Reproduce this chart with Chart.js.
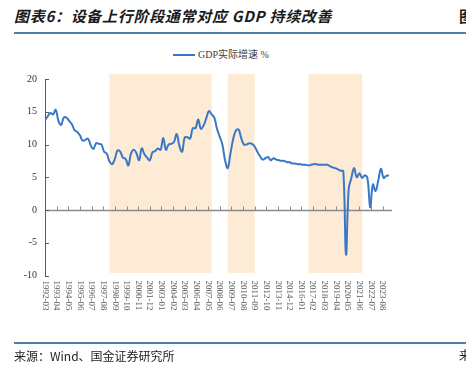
<!DOCTYPE html>
<html>
<head>
<meta charset="utf-8">
<script src="https://cdn.jsdelivr.net/npm/chart.js@4.4.0/dist/chart.umd.min.js"></script>
<style>
  html, body { margin: 0; padding: 0; background: #fff; }
  body { width: 466px; height: 365px; position: relative; overflow: hidden; }
  #c { position: absolute; left: 0; top: 0; }
  .title { position: absolute; left: 14px; top: 5px; font: italic bold 15px "Noto Sans CJK SC", sans-serif; color: #1a1a1a; letter-spacing: 0.7px; white-space: nowrap; }
  .cut { position: absolute; font: bold 15px "Noto Sans CJK SC", sans-serif; color: #1a1a1a; }
  .rule { position: absolute; left: 14px; width: 452px; height: 2px; background: #4f7fa6; }
  .source { position: absolute; left: 14px; top: 347px; font: 12px "Noto Sans CJK SC", sans-serif; color: #222; white-space: nowrap; }
  .legend { position: absolute; left: 173px; top: 46px; font: 10px "Liberation Serif", "Noto Sans CJK SC", serif; color: #404040; white-space: nowrap; }
  .legend i { display: inline-block; width: 22px; height: 2px; background: #3a78c6; vertical-align: middle; margin-right: 3px; position: relative; top: -1px; }
</style>
</head>
<body>
<div class="title">图表6：设备上行阶段通常对应 GDP 持续改善</div>
<div class="cut" style="left:459px; top:5px;">图</div>
<div class="rule" style="top:32px;"></div>
<div class="legend"><i></i>GDP实际增速 %</div>
<canvas id="c" width="466" height="365"></canvas>
<div class="rule" style="top:342px;"></div>
<div class="source">来源：Wind、国金证券研究所</div>
<div class="cut" style="left:459px; top:346px; font-weight:normal; font-size:12px;">来</div>
<script>
// 季度 GDP 实际同比 (%)，从 1992-03 起每季度一个点
const firstQuarter = '1992-03';
const gdpGrowth = [
  13.7, 14.3, 14.8, 14.6,   // 1992
  15.3, 13.6, 13.0, 14.1,   // 1993
  14.1, 13.6, 13.1, 12.2,   // 1994
  11.9, 11.4, 10.6, 10.7,   // 1995
  10.9, 9.9, 9.3, 10.2,     // 1996
  10.1, 10.0, 8.9, 8.6,     // 1997
  7.4, 7.0, 7.8, 9.1,       // 1998
  8.9, 8.0, 7.8, 6.8,       // 1999
  8.6, 9.2, 8.7, 7.6,       // 2000
  9.4, 8.5, 8.0, 7.6,       // 2001
  8.8, 9.0, 9.4, 9.2,       // 2002
  11.0, 9.2, 10.0, 10.1,    // 2003
  10.4, 11.6, 9.8, 8.9,     // 2004
  11.1, 11.1, 10.9, 12.5,   // 2005
  12.5, 13.8, 12.4, 12.9,   // 2006
  14.0, 15.1, 14.6, 14.1,   // 2007
  12.4, 11.2, 10.0, 7.6,    // 2008
  6.4, 8.6, 10.8, 12.1,     // 2009
  12.3, 11.0, 10.0, 10.0,   // 2010
  10.2, 10.1, 9.7, 8.9,     // 2011
  8.2, 7.7, 7.9, 8.1,       // 2012
  7.6, 7.9, 7.7, 7.6,       // 2013
  7.5, 7.5, 7.3, 7.3,       // 2014
  7.1, 7.1, 7.0, 7.0,       // 2015
  6.9, 6.9, 6.8, 6.9,       // 2016
  7.0, 7.0, 6.9, 6.9,       // 2017
  6.9, 6.9, 6.7, 6.5,       // 2018
  6.4, 6.2, 6.0, 5.9,       // 2019
  -6.8, 3.2, 4.9, 6.4,      // 2020
  5.0, 5.6, 4.9, 5.3,       // 2021
  4.8, 0.4, 3.9, 2.9,       // 2022
  4.5, 6.3, 4.9, 5.2,       // 2023
  5.3                       // 2024
];

// 设备上行阶段（阴影区间）
const upcycleStart = ['1998-03', '2009-03', '2016-09'];
const upcycleEnd   = ['2007-09', '2011-09', '2021-09'];

const xTickLabels = [
  '1992-03', '1993-04', '1994-05', '1995-06', '1996-07', '1997-08', '1998-09', '1999-10',
  '2000-11', '2001-12', '2003-01', '2004-02', '2005-03', '2006-04', '2007-05', '2008-06',
  '2009-07', '2010-08', '2011-09', '2012-10', '2013-11', '2014-12', '2016-01', '2017-02',
  '2018-03', '2019-04', '2020-05', '2021-06', '2022-07', '2023-08'
];
const yTicks = [-10, -5, 0, 5, 10, 15, 20];

const BLUE = '#3a78c6';

// 'YYYY-MM' -> 距 firstQuarter 的月数
function monthIndex(s) {
  const [y, m] = s.split('-').map(Number);
  const [y0, m0] = firstQuarter.split('-').map(Number);
  return (y - y0) * 12 + (m - m0);
}

const points = gdpGrowth.map((v, i) => ({ x: i * 3, y: v }));

const decor = {
  id: 'decor',
  beforeDatasetsDraw(chart) {
    const { ctx, chartArea: a, scales: { x, y } } = chart;
    ctx.save();
    // 阴影区间
    ctx.fillStyle = '#fdebd6';
    const top = y.getPixelForValue(20.8), bot = y.getPixelForValue(-9.6);
    upcycleStart.forEach((s, i) => {
      const x0 = x.getPixelForValue(monthIndex(s));
      const x1 = x.getPixelForValue(monthIndex(upcycleEnd[i]));
      ctx.fillRect(x0, top, x1 - x0, bot - top);
    });
    // 零轴 + 向上刻度
    const y0 = Math.round(y.getPixelForValue(0)) + 0.5;
    ctx.strokeStyle = '#8c8c8c';
    ctx.lineWidth = 1.5;
    ctx.beginPath();
    ctx.moveTo(a.left, y0);
    ctx.lineTo(a.right + 3, y0);
    ctx.stroke();
    ctx.lineWidth = 1;
    ctx.beginPath();
    xTickLabels.forEach((lab, i) => {
      if (i === 0) return;
      const px = Math.round(x.getPixelForValue(monthIndex(lab))) + 0.5;
      ctx.moveTo(px, y0);
      ctx.lineTo(px, y0 - 4);
    });
    ctx.stroke();
    // y 轴内侧刻度
    ctx.strokeStyle = '#595959';
    ctx.beginPath();
    yTicks.forEach(v => {
      const py = Math.round(y.getPixelForValue(v)) + 0.5;
      ctx.moveTo(a.left, py);
      ctx.lineTo(a.left + 4, py);
    });
    ctx.stroke();
    ctx.restore();
  },
  afterDraw(chart) {
    const { ctx, chartArea: a, scales: { x } } = chart;
    ctx.save();
    ctx.font = '9px "Liberation Serif", serif';
    ctx.fillStyle = '#595959';
    ctx.textAlign = 'left';
    ctx.textBaseline = 'middle';
    xTickLabels.forEach(lab => {
      const px = x.getPixelForValue(monthIndex(lab));
      ctx.save();
      ctx.translate(px, a.bottom + 5);
      ctx.rotate(Math.PI / 2);
      ctx.fillText(lab, 0, 0);
      ctx.restore();
    });
    ctx.restore();
  }
};

new Chart(document.getElementById('c'), {
  type: 'line',
  data: {
    datasets: [{
      label: 'GDP实际增速 %',
      data: points,
      borderColor: BLUE,
      borderWidth: 2,
      pointRadius: 0,
      tension: 0.4,
      fill: false
    }]
  },
  options: {
    responsive: false,
    animation: false,
    layout: { padding: { left: 0, top: 79, right: 77, bottom: 89.5 } },
    plugins: { legend: { display: false }, tooltip: { enabled: false } },
    scales: {
      x: {
        type: 'linear',
        min: 0,
        max: (gdpGrowth.length - 1) * 3,
        grid: { display: false, drawTicks: false },
        border: { display: false },
        ticks: { display: false },
        afterFit(s) { s.height = 0; }
      },
      y: {
        min: -10,
        max: 20,
        afterBuildTicks(s) { s.ticks = yTicks.map(v => ({ value: v })); },
        grid: { display: false, drawTicks: false },
        border: { display: true, color: '#595959', width: 1 },
        ticks: {
          padding: 8,
          color: '#333',
          font: { family: '"Liberation Serif", serif', size: 10 }
        },
        afterFit(s) { s.width = 45; }
      }
    }
  },
  plugins: [decor]
});
</script>
</body>
</html>
